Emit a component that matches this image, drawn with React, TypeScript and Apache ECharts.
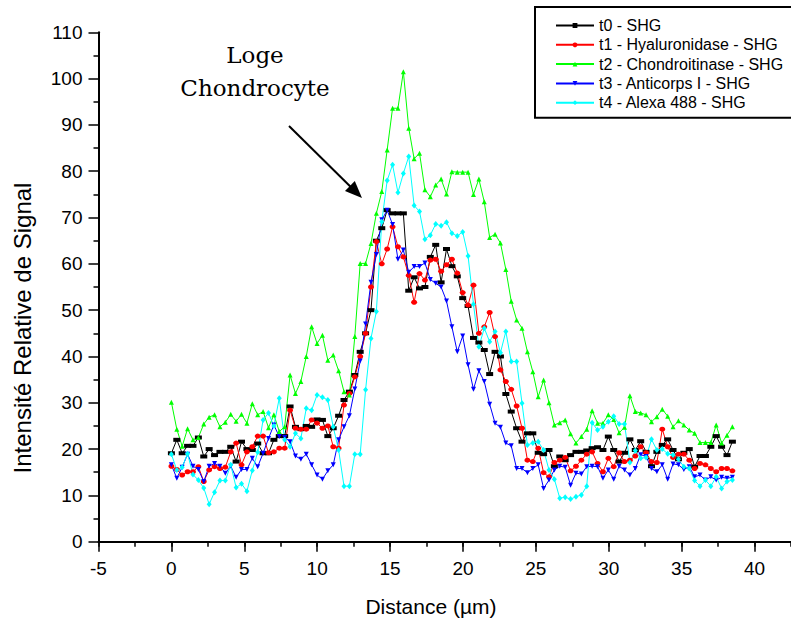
import React, { useEffect, useRef } from "react";
import * as echarts from "echarts";

// Sampling step along the profile (µm)
const STEP_UM = 0.37;

const SERIES_NAMES = [
  "t0 - SHG",
  "t1 - Hyaluronidase - SHG",
  "t2 - Chondroitinase - SHG",
  "t3 - Anticorps I - SHG",
  "t4 - Alexa 488 - SHG",
];

const T0_SHG = [
  19.1, 22, 19.1, 20.7, 20.7, 22.5, 18.4, 20, 18.7, 19.4, 19.4, 20.5, 17.3, 21.6, 20, 19.8, 21.2, 19.1, 19.1, 22,
  22.8, 22.8, 29.2, 24.8, 24.3, 25, 24.8, 26.4, 26.3, 22.8, 24.5, 27.2, 30.6, 32.4, 36, 41, 45, 50, 65, 67.7,
  71.6, 70.9, 70.9, 70.9, 54.2, 57.1, 54.7, 55, 61.5, 64.1, 56, 63.2, 59.5, 57.3, 52.6, 50.9, 44, 43, 41.4, 36.2,
  41, 40, 31.9, 28.1, 24.5, 21.6, 23.4, 23.4, 19.2, 18.9, 19.8, 16.3, 18.4, 17.6, 18.7, 19.4, 19.4, 19.7, 20.2, 20.4,
  19.8, 22.7, 19.8, 17.3, 19.2, 22.1, 19.8, 21.7, 19.4, 16.3, 19.4, 20.9, 22.1, 19.8, 17.8, 19.2, 20, 16.2, 18.5, 18.5,
  20.5, 22.8, 20.5, 18.7, 21.6,
];

const T1_HYALURONIDASE = [
  16.3, 15.6, 14.4, 15.1, 15.1, 16.2, 13, 15.5, 16.2, 15.8, 16.1, 19.4, 21.3, 16.6, 19.4, 20.5, 22.8, 22.8, 19.2, 19.4,
  20.2, 20.2, 28.4, 24.5, 24.3, 24.3, 26.3, 25.6, 24.5, 25, 20.5, 20.2, 29.5, 32, 35.6, 40, 45, 55, 64.8, 60,
  63.2, 68, 63.7, 61.5, 57.5, 51.7, 57.9, 56.5, 60.8, 61, 58.4, 59.8, 61, 58, 53.8, 51.1, 55.4, 45, 46.4, 49.5,
  44.3, 37.1, 34.6, 32.9, 29.3, 24.5, 17.6, 17.3, 20.2, 14.9, 14, 17.1, 17.6, 18.2, 15.3, 16.3, 17.6, 18.9, 19.4, 16.9,
  15.1, 18, 16.2, 19.2, 17.3, 17.6, 18.5, 20.5, 19.2, 17.3, 17.1, 24.3, 20.5, 18.2, 18.9, 18.9, 17.6, 15.8, 16.9, 16.6,
  15.8, 15.1, 15.8, 15.8, 15.3,
];

const T2_CHONDROITINASE = [
  30.1, 24.3, 20.6, 24.4, 22, 22.5, 25.4, 26.9, 27.4, 24.8, 25.8, 27.5, 26, 27.5, 25.6, 29.8, 27.4, 28.1, 24.6, 27.4,
  23.8, 24.8, 36, 32, 34.6, 40, 46.4, 42.8, 44.6, 39.2, 40.3, 36.9, 32.4, 31.7, 44.3, 60.1, 60.1, 64.4, 70.9, 75.6,
  84.6, 93.6, 93.6, 101.5, 89.3, 82.7, 83.9, 76, 74.5, 77, 78.3, 75.1, 79.9, 79.8, 79.8, 79.8, 75, 78.3, 73.4, 65.7,
  66.4, 64.5, 58.8, 51.9, 47.9, 46.1, 41, 36.7, 31.3, 34.9, 30, 25.2, 25.7, 26.3, 23.3, 21.3, 22.7, 24.3, 28.3, 25.6,
  25.6, 27.4, 26.4, 23.5, 24.7, 31.5, 28.1, 27.8, 27.4, 25.9, 27, 28.6, 27.1, 24.8, 26.1, 25.2, 24.1, 23.4, 21.4, 21.4,
  21.4, 25.2, 21.3, 23, 24.8,
];

const T3_ANTICORPS = [
  16.6, 13.7, 16.1, 18.9, 16.3, 15.6, 13, 16.3, 16.9, 16.3, 14.8, 16.3, 13.9, 15.6, 15.6, 18, 16.2, 19.1, 22.3, 25.2,
  22.7, 22.5, 21.6, 18.5, 17.8, 18.9, 16.6, 14.4, 13.5, 15.3, 16.6, 22, 24.8, 27.2, 33, 39, 47, 56, 62, 69.5,
  71.6, 68.5, 61, 63, 58.2, 59.4, 59.4, 60.2, 56.6, 55.8, 55, 52, 46.4, 41, 44.4, 38.2, 32.9, 36.9, 34.6, 29.7,
  25.6, 24.7, 21.3, 20.7, 15.8, 15.8, 14.9, 15.8, 16.6, 11.5, 13.3, 15.5, 16.3, 16.1, 12.2, 14.8, 14.6, 16.2, 16.3, 16.2,
  13.7, 15.5, 13.5, 16.3, 15.5, 14.4, 15.8, 18.8, 18.4, 15.8, 15.1, 16.6, 13.5, 16.8, 16.6, 15.6, 16.2, 14, 14.4, 13.3,
  14, 13.3, 13.9, 13.7, 13.9,
];

const T4_ALEXA488 = [
  18.9, 15.5, 16.1, 19, 14.5, 13.3, 11.6, 8.1, 10.7, 13.2, 13.2, 16.6, 11.7, 12.5, 10.9, 15.4, 19.3, 26.3, 27.8, 25,
  31, 22, 20.5, 23.4, 22.3, 28.8, 28.4, 31.7, 31.2, 30.6, 24.8, 19.8, 12, 12, 18.9, 18.9, 32.8, 43.9, 49.7, 69.1,
  78, 81.4, 75.4, 79.5, 83.2, 72.6, 71.3, 65.3, 66.2, 68.6, 68.2, 69, 66.6, 66, 66.9, 61.7, 51.3, 42.1, 46.1, 43.2,
  45.4, 40.8, 45.4, 38.9, 38.9, 29.9, 20.9, 21.3, 21.6, 19.8, 15.5, 13.5, 9.4, 9.6, 9.2, 9.7, 10.1, 12, 25.7, 24.1,
  24.8, 25.9, 27.1, 25.4, 25.4, 17.1, 19.7, 18, 18.2, 22.1, 19.8, 20, 19, 18.7, 17.8, 16.2, 15.8, 13.2, 12, 13.3,
  12, 14, 11.5, 13, 13.3,
];

const X_MIN = -5;
const X_MAX = 42.5;
const Y_MIN = 0;
const Y_MAX = 110;

const SANS = "'Liberation Sans', Arial, sans-serif";
const SERIF = "'DejaVu Serif', 'Liberation Serif', serif";

function toPairs(vals: number[]): [number, number][] {
  return vals.map((v, i) => [Math.round(i * STEP_UM * 1000) / 1000, v]);
}

const STYLES = [
  { color: "#000000", symbol: "rect", symbolSize: [7, 4], rotate: 0 },
  { color: "#ff0000", symbol: "circle", symbolSize: [6, 5], rotate: 0 },
  { color: "#00ff00", symbol: "triangle", symbolSize: 5, rotate: 0 },
  { color: "#0000ff", symbol: "triangle", symbolSize: 5, rotate: 180 },
  { color: "#00ffff", symbol: "diamond", symbolSize: [5, 6], rotate: 0 },
];

const DATASETS = [T0_SHG, T1_HYALURONIDASE, T2_CHONDROITINASE, T3_ANTICORPS, T4_ALEXA488];

export default function App() {
  const ref = useRef<HTMLDivElement>(null);

  useEffect(() => {
    if (!ref.current) return;
    const chart = echarts.init(ref.current, null, { renderer: "svg" });

    // arrow geometry (annotation)
    const sx = 289, sy = 126, tx = 362, ty = 198;
    const dx = tx - sx, dy = ty - sy;
    const len = Math.sqrt(dx * dx + dy * dy);
    const ux = dx / len, uy = dy / len;
    const headL = 17, headW = 7;
    const bx = tx - ux * headL, by = ty - uy * headL;
    const px = -uy * headW, py = ux * headW;

    const option: any = {
      animation: false,
      backgroundColor: "#ffffff",
      grid: { left: 98.5, right: -2, top: 32.3, bottom: 81.3, containLabel: false },
      legend: {
        orient: "vertical",
        left: 535,
        top: 7,
        itemWidth: 38,
        itemHeight: 6,
        itemGap: 3.3,
        padding: [10.5, 60, 7, 20],
        borderColor: "#000",
        borderWidth: 2,
        backgroundColor: "#fff",
        textStyle: { fontFamily: SANS, fontSize: 16, color: "#000" },
        data: SERIES_NAMES,
      },
      xAxis: [
        {
          type: "value",
          min: X_MIN,
          max: X_MAX,
          interval: 5,
          axisLine: { onZero: false, lineStyle: { color: "#000", width: 2 } },
          axisTick: { show: true, inside: false, length: 10, lineStyle: { color: "#000", width: 1.5 } },
          axisLabel: {
            margin: 17,
            fontSize: 19,
            color: "#000",
            fontFamily: SANS,
            showMaxLabel: false,
          },
          splitLine: { show: false },
        },
        {
          type: "value",
          min: X_MIN,
          max: X_MAX,
          interval: 2.5,
          position: "bottom",
          axisLine: { show: false },
          axisTick: { show: true, inside: false, length: 5, lineStyle: { color: "#000", width: 1.5 } },
          axisLabel: { show: false },
          splitLine: { show: false },
        },
      ],
      yAxis: {
        type: "value",
        min: Y_MIN,
        max: Y_MAX,
        interval: 10,
        axisLine: { show: true, onZero: false, lineStyle: { color: "#000", width: 2 } },
        axisTick: { show: true, inside: false, length: 10, lineStyle: { color: "#000", width: 1.5 } },
        minorTick: { show: true, splitNumber: 2, length: 5, lineStyle: { color: "#000", width: 1.5 } },
        axisLabel: { margin: 16, fontSize: 19, color: "#000", fontFamily: SANS },
        splitLine: { show: false },
        minorSplitLine: { show: false },
      },
      series: DATASETS.map((vals, k) => ({
        name: SERIES_NAMES[k],
        type: "line",
        xAxisIndex: 0,
        data: toPairs(vals),
        symbol: STYLES[k].symbol,
        symbolSize: STYLES[k].symbolSize,
        symbolRotate: STYLES[k].rotate,
        showAllSymbol: true,
        lineStyle: { color: STYLES[k].color, width: 1 },
        itemStyle: { color: STYLES[k].color },
        emphasis: { disabled: true },
      })),
      graphic: [
        {
          type: "text",
          x: 255,
          y: 55,
          style: { text: "Loge", font: `23px ${SERIF}`, fill: "#000", align: "center", verticalAlign: "middle" },
        },
        {
          type: "text",
          x: 255,
          y: 88,
          style: { text: "Chondrocyte", font: `23px ${SERIF}`, fill: "#000", align: "center", verticalAlign: "middle" },
        },
        {
          type: "line",
          shape: { x1: sx, y1: sy, x2: bx + ux * 2, y2: by + uy * 2 },
          style: { stroke: "#000", lineWidth: 2 },
        },
        {
          type: "polygon",
          shape: { points: [[tx, ty], [bx + px, by + py], [bx - px, by - py]] },
          style: { fill: "#000" },
        },
        {
          type: "text",
          x: 22,
          y: 328,
          rotation: Math.PI / 2,
          style: {
            text: "Intensité Relative de Signal",
            font: `24px ${SANS}`,
            fill: "#000",
            align: "center",
            verticalAlign: "middle",
          },
        },
        {
          type: "text",
          x: 431,
          y: 606,
          style: { text: "Distance (µm)", font: `21px ${SANS}`, fill: "#000", align: "center", verticalAlign: "middle" },
        },
      ],
    };

    chart.setOption(option);
    return () => chart.dispose();
  }, []);

  return (
    <div
      ref={ref}
      style={{ position: "absolute", left: 0, top: 0, width: 791, height: 623, background: "#fff" }}
    />
  );
}
